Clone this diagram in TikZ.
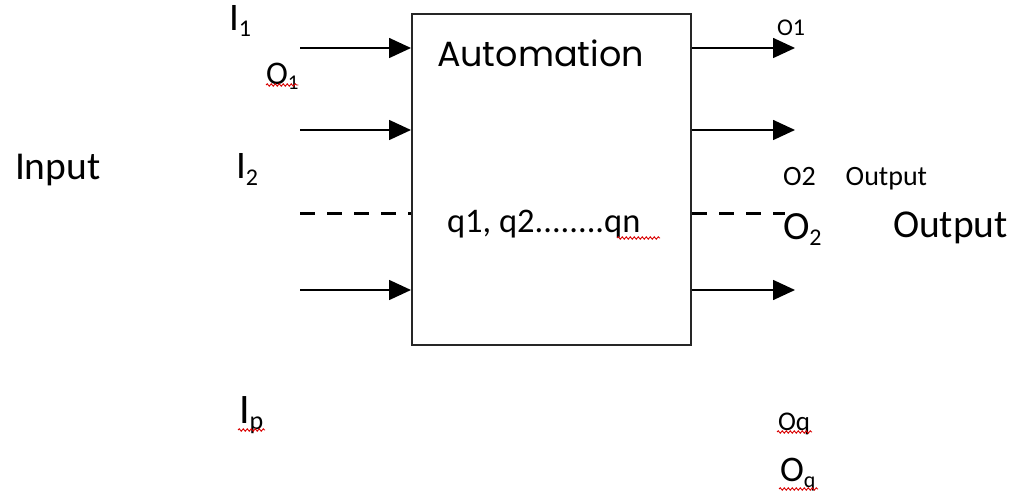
\documentclass[tikz,border=0pt]{standalone}
\usepackage{fontspec}
\setmainfont{Carlito}
\newfontfamily\autofont{Poppins}
\usetikzlibrary{arrows.meta,decorations.pathmorphing}
\newcommand\fsz[1]{\fontsize{#1}{#1}\selectfont}
\newcommand\subs[3]{{\fsz{#1}\raisebox{-#2pt}{#3}}}
\begin{document}
\begin{tikzpicture}[x=1pt,y=-1pt,
  lbl/.style={anchor=base west,inner sep=0pt,outer sep=0pt},
  arr/.style={line width=1.6pt,-{Triangle[length=22pt,width=20pt]}},
  dsh/.style={line width=3pt,dash pattern=on 15pt off 12pt},
  squig/.style={red!85!black,line width=0.9pt,decorate,decoration={snake,amplitude=1.2pt,segment length=4pt}}]
\useasboundingbox (0,0) rectangle (1019,494);
\node[draw,line width=2pt,draw=black!85,minimum width=279pt,minimum height=331pt,inner sep=0pt] (box) at (551.5,179.5) {};
% left connectors
\coordinate (a1) at (300,48);
\coordinate (a2) at (300,130);
\coordinate (a3) at (300,214);
\coordinate (a4) at (300,290);
\draw[arr] (a1) -- (a1 -| box.west);
\draw[arr] (a2) -- (a2 -| box.west);
\draw[dsh] (a3) -- (a3 -| box.west);
\draw[arr] (a4) -- (a4 -| box.west);
% right connectors
\coordinate (b1) at (795,48);
\coordinate (b2) at (795,130);
\coordinate (b3) at (785,214);
\coordinate (b4) at (795,290);
\draw[arr] (b1 -| box.east) -- (b1);
\draw[arr] (b2 -| box.east) -- (b2);
\draw[dsh] (b3 -| box.east) -- (b3);
\draw[arr] (b4 -| box.east) -- (b4);
% box texts
\node[lbl] (auto) at (437,67) {\autofont\fsz{35}Automation};
\node[lbl] (states) at (447,233) {\fsz{34.5}q1, q2........qn};
% left labels
\node[lbl] (input) at (15,180) {\fsz{39.5}Input};
\node[lbl] (i1) at (229,31) {\fsz{39}I\subs{24}{6}{1}};
\node[lbl] (o1l) at (266,85) {\fsz{33}O\subs{21}{5}{1}};
\node[lbl] (i2) at (236,179) {\fsz{39}I\subs{24}{7}{2}};
\node[lbl] (ip) at (239,423) {\fsz{42}I\subs{26}{6}{p}};
% right labels
\node[lbl] (o1r) at (777,36) {\fsz{24}O1};
\node[lbl] (o2s) at (783,186) {\fsz{28}O2\hspace{30pt}Output};
\node[lbl] (o2b) at (783,240) {\fsz{40}O\subs{24}{6}{2}};
\node[lbl] (outb) at (893,238) {\fsz{39.5}Output};
\node[lbl] (oqs) at (778,430) {\fsz{27}Oq};
\node[lbl] (oqb) at (780,481) {\fsz{36}O\subs{22}{6}{q}};
% spell-check underlines
\draw[squig] ([yshift=5pt]o1l.south west) -- ([yshift=5pt]o1l.south east);
\draw[squig] (238,430) -- (265,430);
\draw[squig] (617,238) -- (660,238);
\draw[squig] (777,432) -- (812,432);
\draw[squig] (779,489) -- (818,489);
\end{tikzpicture}
\end{document}
